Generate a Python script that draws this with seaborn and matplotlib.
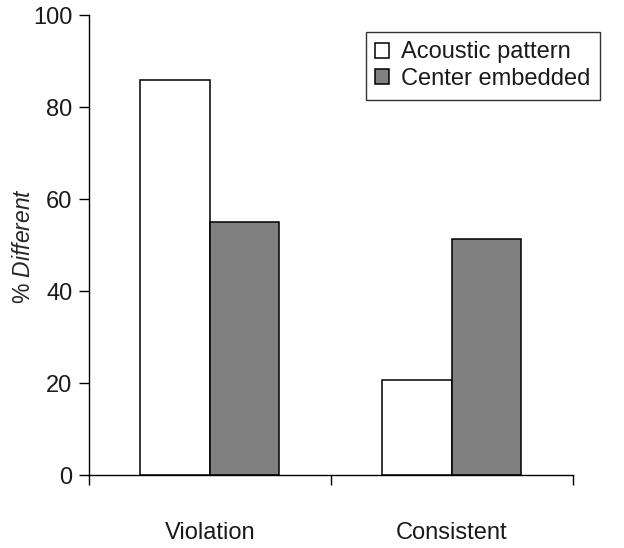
import pandas as pd
import matplotlib
matplotlib.use('Agg')
import matplotlib.pyplot as plt
import seaborn as sns

conditions = ['Violation', 'Consistent']
series = ['Acoustic pattern', 'Center embedded']
acoustic_pattern = [85.8, 20.6]
center_embedded = [55.1, 51.4]

df = pd.DataFrame({
    'condition': conditions * 2,
    'group': [series[0]] * 2 + [series[1]] * 2,
    'value': acoustic_pattern + center_embedded,
})

sns.set_style('ticks')
plt.rcParams['font.family'] = ['Liberation Sans', 'DejaVu Sans']
plt.rcParams['mathtext.fontset'] = 'custom'
plt.rcParams['mathtext.it'] = 'Liberation Sans:italic'
plt.rcParams['mathtext.rm'] = 'Liberation Sans'
plt.rcParams['text.color'] = '#1a1a1a'
plt.rcParams['xtick.labelcolor'] = '#1a1a1a'
plt.rcParams['ytick.labelcolor'] = '#1a1a1a'

fs = 17

fig = plt.figure(figsize=(6.24, 5.48), dpi=100)
ax = fig.add_axes([0.1426, 0.1332, 0.918 - 0.1426, 0.9726 - 0.1332])

sns.barplot(data=df, x='condition', y='value', hue='group',
            palette=['white', '#808080'], edgecolor='black', linewidth=1.1,
            width=0.575, gap=0, ax=ax)

ax.set_xlim(-0.5, 1.5)
ax.set_ylim(0, 100)
ax.set_yticks([0, 20, 40, 60, 80, 100])
ax.set_xlabel('')
ax.set_ylabel(r'% $\it{Different}$', fontsize=16.5)
ax.yaxis.set_label_coords(-0.112, 0.498)

ax.tick_params(axis='y', labelsize=fs, length=7, width=1, color='black', pad=5)
ax.tick_params(axis='x', which='major', labelsize=fs, length=0, pad=34)
ax.set_xticks([-0.5, 0.5, 1.5], minor=True)
ax.tick_params(axis='x', which='minor', length=7, width=1, color='black')

for side in ['top', 'right']:
    ax.spines[side].set_visible(False)
for side in ['left', 'bottom']:
    ax.spines[side].set_color('black')
    ax.spines[side].set_linewidth(1)

leg = ax.legend(loc='upper right', bbox_to_anchor=(1.056, 0.963), fontsize=fs,
                frameon=True, fancybox=False, edgecolor='black',
                handlelength=0.6, handleheight=0.6, handletextpad=0.5,
                borderpad=0.4, labelspacing=0.2, borderaxespad=0)
leg.get_frame().set_linewidth(1)

fig.savefig('out.png', dpi=100)
